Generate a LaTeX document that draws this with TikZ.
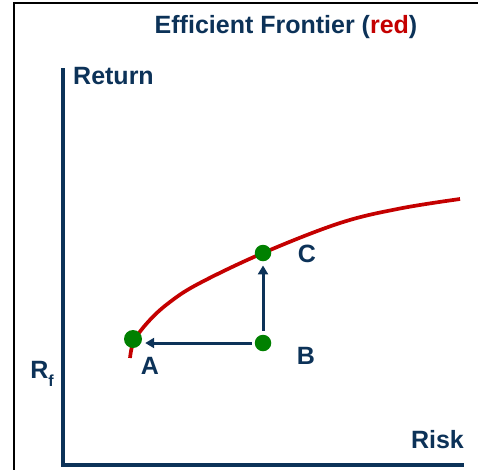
\documentclass[tikz,border=0pt]{standalone}
\usepackage{fontspec}
\setmainfont{Liberation Sans}
\usetikzlibrary{arrows.meta}
\definecolor{navy}{RGB}{12,50,88}
\definecolor{effred}{RGB}{196,0,0}
\definecolor{dotgreen}{RGB}{0,128,0}
\begin{document}
\begin{tikzpicture}[x=1pt,y=-1pt,
  lbl/.style={text=navy,font=\bfseries\fontsize{25}{30}\selectfont,inner sep=0pt},
  dot/.style={circle,fill=dotgreen,draw=none,minimum size=16.5pt,inner sep=0pt},
  arr/.style={draw=navy,line width=3pt,-{Triangle[length=9pt,width=10pt]}}]
\useasboundingbox (0,0) rectangle (478,469);
% frame
\draw[black,line width=2pt] (14,475) -- (14,3) -- (485,3);
% title
\node[lbl] (title) at (286,27) {Efficient Frontier (\textcolor{effred}{red})};
% axes
\draw[navy,line width=4pt] (63,68) -- (63,465) -- (464,465);
\node[lbl,anchor=west] (ret) at (73,76) {Return};
\node[lbl,anchor=east] (risk) at (464,440) {Risk};
\node[lbl] (rf) at (42,374) {R\raisebox{-0.3em}{\fontsize{16}{18}\selectfont f}};
% frontier curve
\draw[effred,line width=3.7pt,line cap=butt] plot[smooth,tension=0.6] coordinates
  {(130,358) (134,341) (148,322) (168,303.5) (198,284) (263,253) (340,223) (400,208.5) (460,199)};
% points
\node[dot,minimum width=18pt] (A) at (133,339) {};
\node[dot] (B) at (263,343) {};
\node[dot] (C) at (263,253) {};
\node[lbl] (la) at (150,366) {A};
\node[lbl] (lb) at (306,356) {B};
\node[lbl] (lc) at (307,254) {C};
% arrows
\draw[arr,shorten <=3pt,shorten >=3pt] (B.west) -- (B.west -| A.east);
\draw[arr,shorten <=4pt,shorten >=4pt] (B) -- (C);
\end{tikzpicture}
\end{document}
